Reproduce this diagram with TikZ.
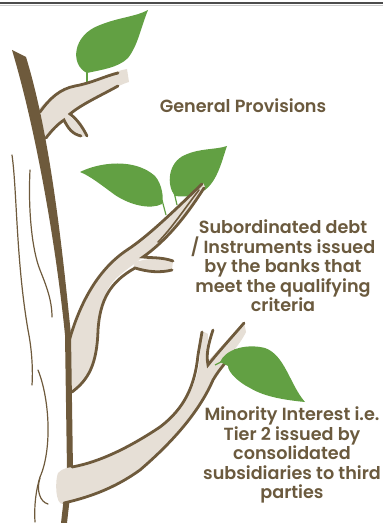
\documentclass[tikz,border=0pt]{standalone}
\usepackage{xcolor}
\usepackage{fontspec}
\usepackage{tikz}
\newfontfamily\labelfont{Poppins SemiBold}
\definecolor{barkbrown}{HTML}{6E5A3C}
\definecolor{woodbeige}{HTML}{E6DFD6}
\definecolor{leafgreen}{HTML}{62A043}
\definecolor{textbrown}{HTML}{6B5A3E}
\tikzstyle{leaf} = [fill=leafgreen]
\tikzstyle{stem} = [draw=leafgreen, line width=0.9pt]
\tikzstyle{wood} = [fill=woodbeige]
\tikzstyle{bark} = [draw=barkbrown, line width=2.1pt, line cap=round]
\tikzstyle{grain} = [draw=barkbrown, line width=0.9pt, line cap=round]
\tikzstyle{caption} = [text=textbrown, align=center, inner sep=0pt, font=\labelfont\fontsize{13.2}{14.6}\selectfont]

\begin{document}
\begin{tikzpicture}[x=0.75pt, y=-0.75pt]
		\useasboundingbox (0,0) rectangle (383,523);
		% rule along the top
		\draw[gray!60!black, line width=1.3pt] (0,3.2) -- (383,3.2);
		\draw[gray!40, line width=0.6pt] (0,5.3) -- (383,5.3);

		% grain lines left of the trunk
		\draw[grain] (12,155) .. controls (17,190) and (16,260) .. (28,330) .. controls (32,350) and (33,370) .. (32,385);
		\draw[grain] (30,170) .. controls (28,210) and (32,250) .. (40,270) .. controls (46,285) and (52,300) .. (52,317);
		\draw[grain] (38,370) .. controls (50,400) and (52,450) .. (40,477) .. controls (36,490) and (34,505) .. (35,522);
		\draw[grain] (40,478) .. controls (36,490) and (40,502) .. (48,504);

		% leaves
		\draw[stem] (87,72) -- (87,84);
		\fill[leaf] (87,73) .. controls (70,65) and (72,35) .. (100,25) .. controls (120,17) and (135,17) .. (148,10) .. controls (140,30) and (138,45) .. (128,58) .. controls (118,68) and (100,70) .. cycle;
		\draw[stem] (162,200) -- (166,215);
		\fill[leaf] (80,172) .. controls (100,162) and (135,158) .. (155,176) .. controls (162,184) and (164,198) .. (162,204) .. controls (150,210) and (130,205) .. (115,195) .. controls (100,184) and (90,176) .. cycle;
		\draw[stem] (174,192) -- (177,205);
		\fill[leaf] (175,196) .. controls (166,185) and (168,162) .. (185,155) .. controls (200,148) and (215,150) .. (227,146) .. controls (222,160) and (218,180) .. (205,190) .. controls (195,197) and (185,197) .. cycle;

		% upper branch
		\fill[wood] (38,110) .. controls (50,97) and (60,88) .. (75,85) .. controls (95,82) and (110,72) .. (127,69) -- (129,82) .. controls (115,86) and (95,100) .. (80,108) .. controls (65,118) and (55,128) .. (45,140) -- (40,125) -- cycle;
		\fill[wood] (66,114) .. controls (76,120) and (83,128) .. (87,136) -- (80,137) .. controls (72,134) and (66,127) .. (62,120) -- cycle;
		\draw[bark] (40,112) .. controls (50,98) and (60,89) .. (75,86) .. controls (92,83) and (105,76) .. (118,73);
		\draw[bark] (118,86) .. controls (100,96) and (82,104) .. (70,114) .. controls (78,120) and (83,128) .. (87,136);
		\draw[bark] (46,138) .. controls (52,130) and (58,124) .. (64,120) .. controls (68,128) and (72,134) .. (81,136);

		% middle branch
		\fill[wood] (203,183) .. controls (180,205) and (150,235) .. (127,250) .. controls (100,268) and (80,300) .. (68,343) -- (67,392) -- (73,392) .. controls (88,378) and (95,365) .. (96,350) .. controls (98,320) and (100,290) .. (120,275) .. controls (128,268) and (135,264) .. (143,257) .. controls (165,240) and (190,210) .. (205,187) -- cycle;
		\fill[wood] (135,262) .. controls (150,258) and (162,257) .. (173,261) -- (172,270) .. controls (160,273) and (148,272) .. (133,268) -- cycle;
		\draw[bark] (202,184) .. controls (180,205) and (150,235) .. (127,250) .. controls (100,268) and (80,300) .. (68,345);
		\draw[bark, line width=1.2pt] (199,190) .. controls (185,208) and (172,228) .. (158,242);
		\draw[bark] (204,188) .. controls (190,210) and (170,238) .. (143,257) .. controls (150,258) and (162,257) .. (173,261);
		\draw[bark] (172,270) .. controls (160,273) and (148,272) .. (135,268) .. controls (110,282) and (100,300) .. (98,330) .. controls (97,365) and (88,380) .. (72,392);

		% trunk
		\fill[barkbrown] (12,50) -- (26,57) .. controls (50,135) and (62,245) .. (71,335) -- (73,470) -- (67,523) -- (61,523) -- (67,470) -- (65,335) .. controls (56,245) and (36,130) .. cycle;

		% lower branch
		\fill[wood] (58,473) .. controls (62,468) and (70,467) .. (75,467) .. controls (100,462) and (130,447) .. (160,427) .. controls (185,408) and (198,385) .. (200,355) -- (202,331) -- (208,334) -- (207,362) -- (244,322) -- (246,332) .. controls (240,345) and (225,360) .. (213,380) .. controls (200,410) and (175,440) .. (140,470) .. controls (115,488) and (90,497) .. (63,504) .. controls (55,505) and (55,480) .. cycle;
		\draw[bark] (72,467) .. controls (100,462) and (130,447) .. (160,427) .. controls (185,408) and (195,385) .. (198,355) -- (202,332);
		\draw[bark] (213,330) .. controls (208,345) and (206,355) .. (208,365) .. controls (220,350) and (232,337) .. (244,323);
		\draw[bark] (64,503) .. controls (90,497) and (115,488) .. (140,470) .. controls (175,440) and (200,410) .. (213,380) .. controls (220,368) and (228,360) .. (236,350);
		\draw[stem] (215,365) -- (225,360);
		\fill[leaf] (220,362) .. controls (225,350) and (245,343) .. (265,348) .. controls (285,355) and (290,385) .. (305,402) .. controls (285,400) and (265,397) .. (250,388) .. controls (238,382) and (228,372) .. (228,366) -- cycle;

		% labels
		\node[caption] (General) at (243,106) {General Provisions};
		\node[caption] (Subordinated) at (283,266) {Subordinated debt\\/ Instruments issued\\by the banks that\\meet the qualifying\\criteria};
		\node[caption] (Minority) at (292,455) {Minority Interest i.e.\\Tier 2 issued by\\consolidated\\subsidiaries to third\\parties};
	\end{tikzpicture}
\end{document}
